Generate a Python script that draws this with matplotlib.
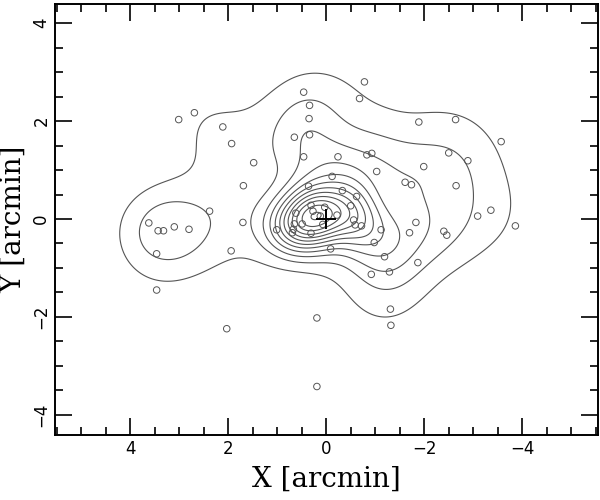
import numpy as np
import matplotlib
matplotlib.use("Agg")
import matplotlib.pyplot as plt
from matplotlib.ticker import MultipleLocator

# galaxy positions (arcmin)
x_pts = [-0.78, 0.46, -0.68, 0.34, 2.69, 3.01, 0.35, 2.11, -1.89, -2.64,
         0.65, 0.34, 1.93, -3.57, 1.48, 0.46, -0.24, -0.83, -0.93, -2.50,
         -2.89, -1.99, -1.03, -0.12, 1.69, 0.36, -1.61, -1.74, -2.65, -0.33,
         -0.62, 2.38, -3.36, -3.09, -3.86, 3.62, 3.43, 3.32, 3.10, 2.80,
         1.70, 3.46, 3.46, 1.94, 1.01, -0.09, -0.98, -1.12, -1.70, -1.83,
         -2.40, -2.46, -1.19, -1.87, -0.92, -1.29, -1.31, -1.32, 0.19, 2.03,
         0.19,
         0.31, 0.03, 0.27, -0.50, -0.22, 0.62, 0.12, -0.56, 0.65, 0.49,
         0.07, -0.59, -0.72, 0.67, 0.69, 0.31]
y_pts = [2.80, 2.59, 2.46, 2.32, 2.17, 2.03, 2.05, 1.88, 1.98, 2.03,
         1.67, 1.72, 1.54, 1.58, 1.15, 1.27, 1.27, 1.31, 1.34, 1.35,
         1.19, 1.07, 0.97, 0.87, 0.68, 0.67, 0.75, 0.70, 0.68, 0.58,
         0.46, 0.16, 0.18, 0.06, -0.14, -0.08, -0.24, -0.24, -0.16, -0.21,
         -0.07, -0.71, -1.45, -0.65, -0.22, -0.61, -0.48, -0.22, -0.28, -0.07,
         -0.25, -0.33, -0.77, -0.89, -1.13, -1.08, -1.84, -2.17, -2.02, -2.24,
         -3.42,
         0.28, 0.24, 0.16, 0.27, 0.08, 0.12, 0.06, -0.02, -0.10, -0.10,
         -0.11, -0.12, -0.14, -0.21, -0.28, -0.29]

h0 = 0.57         # pilot kernel width (arcmin)
n_levels = 12
x_ticks = [4, 2, 0, -2, -4]
y_ticks = [-4, -2, 0, 2, 4]

x_pts = np.array(x_pts)
y_pts = np.array(y_pts)

gx = np.linspace(-5.6, 5.6, 400)
gy = np.linspace(-4.5, 4.5, 330)
GX, GY = np.meshgrid(gx, gy)


def kde(xx, yy, widths):
    out = np.zeros_like(xx, dtype=float)
    for px, py, w in zip(x_pts, y_pts, widths):
        out += np.exp(-((xx - px) ** 2 + (yy - py) ** 2) / (2 * w ** 2)) / (2 * np.pi * w ** 2)
    return out


# adaptive kernel: narrower where the galaxies crowd together
pilot = kde(x_pts, y_pts, np.full(len(x_pts), h0))
g = np.exp(np.mean(np.log(pilot)))
widths = h0 * (pilot / g) ** -0.5
dens = kde(GX, GY, widths)

step = dens.max() / (n_levels + 0.15)
levels = step * np.arange(1, n_levels + 1)

fig = plt.figure(figsize=(6, 5), dpi=100)
ax = fig.add_axes([0.092, 0.13, 0.905, 0.862])

ax.contour(GX, GY, dens, levels=levels, colors="#555555", linewidths=0.8)
ax.scatter(x_pts, y_pts, s=22, facecolors="none", edgecolors="#555555",
           linewidths=0.7, zorder=3)
ax.plot([0], [0], marker="+", color="black", markersize=14, mew=1.4, zorder=4)

ax.set_xlim(5.53, -5.55)
ax.set_ylim(-4.41, 4.39)
ax.set_xticks(x_ticks)
ax.set_yticks(y_ticks)
ax.xaxis.set_minor_locator(MultipleLocator(0.5))
ax.yaxis.set_minor_locator(MultipleLocator(0.5))
ax.tick_params(which="both", direction="in", top=True, right=True,
               labelsize=12, width=1.2)
ax.tick_params(which="major", length=12)
ax.tick_params(which="minor", length=6)
for lab in ax.get_yticklabels():
    lab.set_rotation(90)
    lab.set_va("center")
for s in ax.spines.values():
    s.set_linewidth(1.4)

ax.set_xlabel("X [arcmin]", fontsize=20, family="DejaVu Serif", labelpad=6)
ax.set_ylabel("Y [arcmin]", fontsize=20, family="DejaVu Serif", labelpad=4)

fig.savefig("out.png", dpi=100)
